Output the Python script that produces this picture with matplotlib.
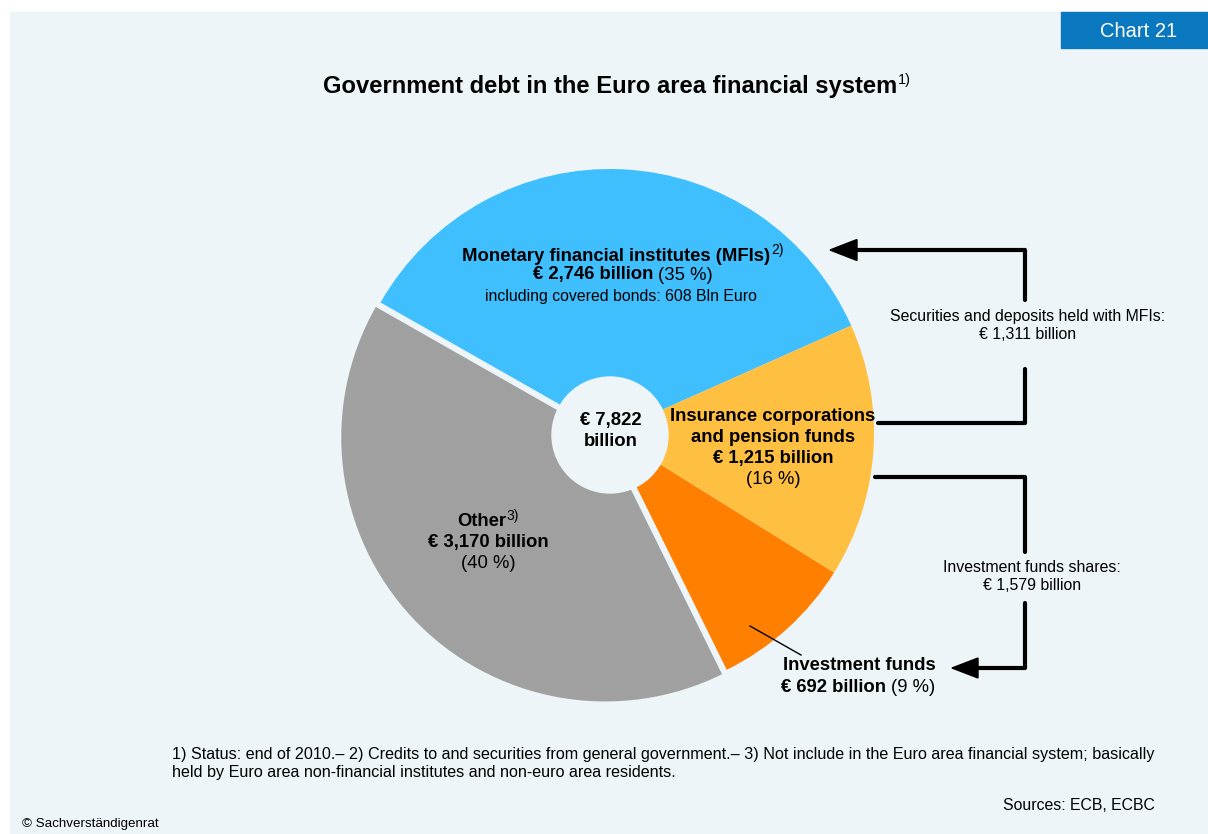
import matplotlib.pyplot as plt
from matplotlib.patches import Rectangle, Circle, Polygon

W, H = 1208, 834

# Government debt held in the euro area, end of 2010 (€ billion)
sectors = ["Monetary financial institutes (MFIs)", "Other", "Investment funds",
           "Insurance corporations\nand pension funds"]
amounts = [2746, 3170, 692, 1215]
shares = [35, 40, 9, 16]
total = 7822
covered_bonds = 608
mfi_holdings = 1311      # securities and deposits held with MFIs
fund_shares = 1579       # investment funds shares

COLORS = ["#40BFFF", "#A0A0A0", "#FF8000", "#FFBF40"]
BG = "#EDF5F9"
BOLD = 13.3
NORMAL = 11.4

plt.rcParams["font.family"] = ["Liberation Sans", "DejaVu Sans"]

fig = plt.figure(figsize=(W / 100, H / 100), dpi=100, facecolor="white")
ax = fig.add_axes([0, 0, 1, 1])

# panel background and the "Chart 21" tab
ax.add_patch(Rectangle((10, 12), W - 10, H - 12, color=BG, zorder=0))
ax.add_patch(Rectangle((1061, 12), W - 1061, 36, color="#0A78BE", zorder=1))
ax.text(1139, 31, "Chart 21", color="white", fontsize=14.5, ha="center", va="center")

# y axis runs downwards, so the pie is laid out clockwise in data space
# (which reads counter-clockwise on screen)
cx, cy, R = 610, 433, 264
explode = [0, 6.5, 0, 0]
ax.pie(amounts, colors=COLORS, center=(cx, cy), radius=R, startangle=-24,
       counterclock=False, explode=explode, wedgeprops=dict(linewidth=0),
       frame=True)
ax.add_patch(Circle((cx, cy + 2), 58, color=BG, zorder=3))

ax.set_xlim(0, W)
ax.set_ylim(H, 0)
ax.set_aspect("equal")
ax.axis("off")


def txt(x, y, s, weight="normal", size=NORMAL, ha="center", **kw):
    return ax.text(x, y, s, fontweight=weight, fontsize=size, ha=ha, va="center",
                   zorder=5, **kw)


def bold_then_normal(xsplit, y, bold, normal, size=BOLD):
    txt(xsplit, y, bold, "bold", size, ha="right")
    txt(xsplit + 5, y, normal, "normal", size, ha="left")


# title
txt(897, 86, "Government debt in the Euro area financial system", "bold", 17.1, ha="right")
txt(898, 80, "1)", size=10.5, ha="left")

# centre total
txt(611, 420, f"€ {total:,}", "bold", BOLD)
txt(611, 441, "billion", "bold", BOLD)

# MFIs
txt(770, 256, sectors[0], "bold", BOLD, ha="right")
txt(771, 250, "2)", size=10, ha="left")
bold_then_normal(653, 275, f"€ {amounts[0]:,} billion", f"({shares[0]} %)")
txt(621, 296, f"including covered bonds: {covered_bonds} Bln Euro", size=NORMAL)

# Other
txt(506, 522, sectors[1], "bold", BOLD, ha="right")
txt(506, 516, "3)", size=10, ha="left")
txt(488, 543, f"€ {amounts[1]:,} billion", "bold", BOLD)
txt(488, 564, f"({shares[1]} %)", size=BOLD)

# Insurance corporations and pension funds
ins1, ins2 = sectors[3].split("\n")
txt(773, 416, ins1, "bold", BOLD)
txt(773, 437, ins2, "bold", BOLD)
txt(773, 458, f"€ {amounts[3]:,} billion", "bold", BOLD)
txt(773, 479, f"({shares[3]} %)", size=BOLD)

# Investment funds, with leader line into its slice
ax.plot([750, 801], [626, 655], color="black", lw=1.0, zorder=4)
txt(859, 666, sectors[2], "bold", BOLD)
bold_then_normal(886, 688, f"€ {amounts[2]:,} billion", f"({shares[2]} %)")

# flows between the sectors
line_kw = dict(color="black", lw=3.0, solid_joinstyle="round",
               solid_capstyle="round", zorder=4)
ax.plot([878, 1025, 1025], [423, 423, 369], **line_kw)
ax.plot([1025, 1025, 855], [300, 250, 250], **line_kw)
ax.add_patch(Polygon([(830, 250), (857, 239.5), (857, 260.5)], color="black", zorder=4))
txt(1028, 317, "Securities and deposits held with MFIs:", size=NORMAL)
txt(1028, 334, f"€ {mfi_holdings:,} billion", size=NORMAL)

ax.plot([875, 1025, 1025], [477, 477, 552], **line_kw)
ax.plot([1025, 1025, 975], [603, 668, 668], **line_kw)
ax.add_patch(Polygon([(952, 668), (978, 658), (978, 678)], color="black", zorder=4))
txt(1032, 568, "Investment funds shares:", size=NORMAL)
txt(1032, 586, f"€ {fund_shares:,} billion", size=NORMAL)

# footnotes and sources
txt(172, 755, "1) Status: end of 2010.– 2) Credits to and securities from general "
    "government.– 3) Not include in the Euro area financial system; basically",
    size=11.6, ha="left")
txt(172, 772, "held by Euro area non-financial institutes and non-euro area residents.",
    size=11.6, ha="left")
txt(1155, 806, "Sources: ECB, ECBC", size=NORMAL, ha="right")
txt(22, 824, "© Sachverständigenrat", size=9.6, ha="left")

fig.savefig("out.png", dpi=100, facecolor="white")
